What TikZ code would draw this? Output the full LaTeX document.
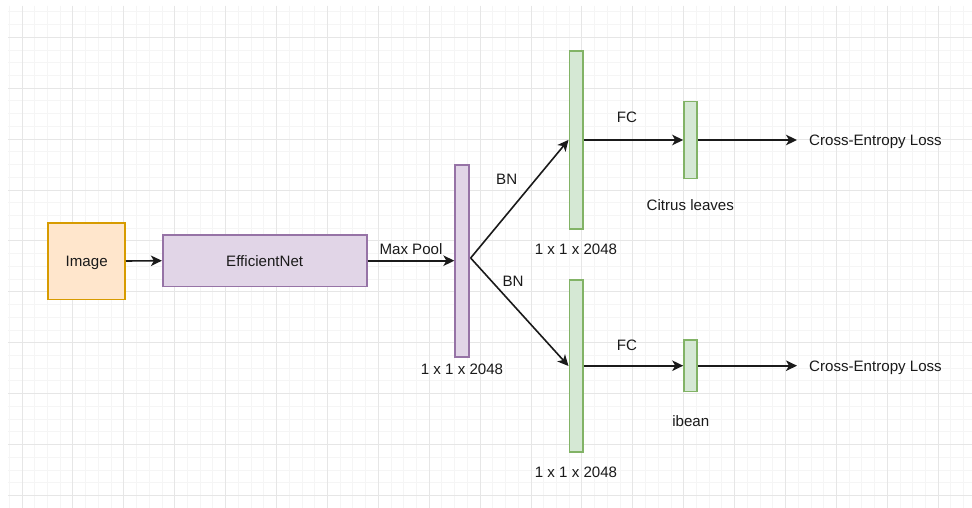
\documentclass[tikz,border=0pt]{standalone}
\usepackage{fontspec}
\setmainfont{Liberation Sans}
\usetikzlibrary{arrows.meta,calc}

\definecolor{gridminor}{HTML}{F5F5F5}
\definecolor{gridmajor}{HTML}{E6E6E6}
\definecolor{orangefill}{HTML}{FFE6CC}
\definecolor{orangeline}{HTML}{D79B00}
\definecolor{purplefill}{HTML}{E1D5E7}
\definecolor{purpleline}{HTML}{9673A6}
\definecolor{greenfill}{HTML}{D5E8D4}
\definecolor{greenline}{HTML}{82B366}
\definecolor{ink}{HTML}{1A1A1A}

\begin{document}
\begin{tikzpicture}[x=1pt, y=-1pt,
  font=\fontsize{15.1}{18}\selectfont,
  box/.style={draw, line width=1.6pt, rectangle, inner sep=0pt, text=ink,
              text height=10.8pt, text depth=0pt},
  orangebox/.style={box, draw=orangeline, fill=orangefill},
  purplebox/.style={box, draw=purpleline, fill=purplefill},
  greenbox/.style={box, draw=greenline, fill=greenfill},
  tag/.style={inner sep=0pt, anchor=base, text=ink},
  flow/.style={draw=ink, line width=1.6pt,
               -{Stealth[length=11pt, width=10.5pt, inset=3pt]}},
  minorline/.style={draw=gridminor, line width=0.9pt},
  majorline/.style={draw=gridmajor, line width=0.9pt}]

% canvas and background grid
\fill[white] (0,0) rectangle (972,508);
\useasboundingbox (0,0) rectangle (972,508);
\begin{scope}
  \clip (8,6) rectangle (972,508);
  \foreach \k in {-1,...,76}
    \draw[minorline] ({22+12.725*\k},6) -- ++(0,502);
  \foreach \k in {-3,...,37}
    \draw[minorline] (8,{37.3+12.725*\k}) -- ++(964,0);
  \foreach \k in {0,...,19}
    \draw[majorline] ({22+50.9*\k},6) -- ++(0,502);
  \foreach \k in {0,...,9}
    \draw[majorline] (8,{37.3+50.9*\k}) -- ++(964,0);
\end{scope}

% blocks
\node[orangebox, minimum width=77pt, minimum height=76.6pt] (img) at (86.7,261) {Image};
\node[purplebox, minimum width=204pt, minimum height=51.3pt] (eff) at (264.7,260.7) {EfficientNet};
\node[purplebox, minimum width=13.7pt, minimum height=191.7pt] (pool) at (462,261) {};
\node[greenbox, minimum width=13.4pt, minimum height=178.3pt] (g1) at (576,139.9) {};
\node[greenbox, minimum width=13.4pt, minimum height=172pt] (g2) at (576,366) {};
\node[greenbox, minimum width=13pt, minimum height=76.6pt] (s1) at (690.5,140) {};
\node[greenbox, minimum width=13pt, minimum height=51.3pt] (s2) at (690.5,365.7) {};

% free ends of the output arrows
\coordinate (split) at ($(pool.east)+(1,-3)$);
\coordinate (out1) at (797,140);
\coordinate (out2) at (797,365.7);

% connectors
\draw[flow] (img.east) -- (eff.west);
\draw[flow] (eff.east) -- (pool.west |- eff.east);
\draw[flow] (split) -- (g1.west);
\draw[flow] (split) -- (g2.west);
\draw[flow] (g1.east |- s1.west) -- (s1.west);
\draw[flow] (g2.east |- s2.west) -- (s2.west);
\draw[flow] (s1.east) -- (out1);
\draw[flow] (s2.east) -- (out2);

% labels
\node[tag] (lmax) at (411,254) {Max Pool};
\node[tag] (lpool) at (462,374) {1 x 1 x 2048};
\node[tag] (lbn1) at (506.7,185) {BN};
\node[tag] (lbn2) at (513,286.7) {BN};
\node[tag] (lg1) at (576,254.3) {1 x 1 x 2048};
\node[tag] (lg2) at (576,477.3) {1 x 1 x 2048};
\node[tag] (lfc1) at (627,122.3) {FC};
\node[tag] (lfc2) at (627,350) {FC};
\node[tag] (lcit) at (690.3,210.7) {Citrus leaves};
\node[tag] (libean) at (690.8,426.7) {ibean};
\node[tag, anchor=base west] (loss1) at (809,146) {Cross-Entropy Loss};
\node[tag, anchor=base west] (loss2) at (809,371) {Cross-Entropy Loss};
\end{tikzpicture}
\end{document}
